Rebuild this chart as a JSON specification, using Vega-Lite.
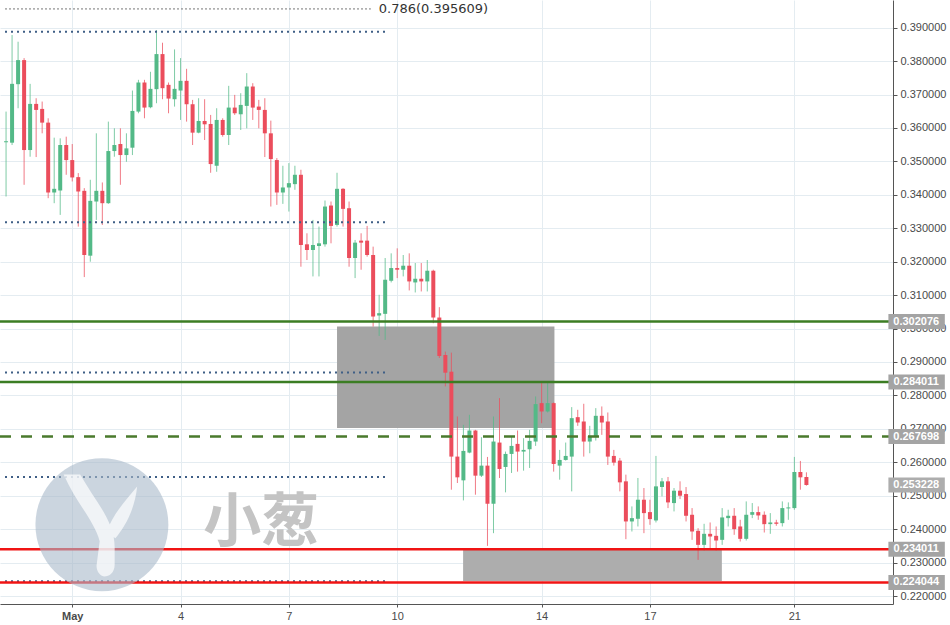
{
  "$schema": "https://vega.github.io/schema/vega-lite/v6.json",
  "width": 893,
  "height": 604,
  "autosize": {"type": "none"},
  "padding": {"left": 0, "top": 0, "right": 57, "bottom": 21},
  "background": "white",
  "config": {
    "view": {"stroke": null},
    "axis": {"gridColor": "#e4ecf1", "gridWidth": 1, "domainColor": "#555555", "tickColor": "#555555", "labelColor": "#4a4a4a", "labelFont": "Liberation Sans", "labelFontSize": 11, "labelOverlap": false, "labelBound": false}
  },
  "datasets": {
    "candles": [
      {"t":"2018-04-29T04:00","o":0.3557,"h":0.3649,"l":0.3395,"c":0.3560},
      {"t":"2018-04-29T08:00","o":0.3556,"h":0.3878,"l":0.3549,"c":0.3732},
      {"t":"2018-04-29T12:00","o":0.3731,"h":0.3858,"l":0.3659,"c":0.3803},
      {"t":"2018-04-29T16:00","o":0.3803,"h":0.3809,"l":0.3430,"c":0.3534},
      {"t":"2018-04-29T20:00","o":0.3534,"h":0.3732,"l":0.3514,"c":0.3672},
      {"t":"2018-04-30T00:00","o":0.3672,"h":0.3689,"l":0.3513,"c":0.3654},
      {"t":"2018-04-30T04:00","o":0.3657,"h":0.3679,"l":0.3584,"c":0.3616},
      {"t":"2018-04-30T08:00","o":0.3616,"h":0.3629,"l":0.3390,"c":0.3407},
      {"t":"2018-04-30T12:00","o":0.3407,"h":0.3571,"l":0.3375,"c":0.3418},
      {"t":"2018-04-30T16:00","o":0.3413,"h":0.3569,"l":0.3340,"c":0.3549},
      {"t":"2018-04-30T20:00","o":0.3549,"h":0.3574,"l":0.3460,"c":0.3504},
      {"t":"2018-05-01T00:00","o":0.3504,"h":0.3552,"l":0.3440,"c":0.3452},
      {"t":"2018-05-01T04:00","o":0.3453,"h":0.3465,"l":0.3305,"c":0.3410},
      {"t":"2018-05-01T08:00","o":0.3412,"h":0.3420,"l":0.3154,"c":0.3220},
      {"t":"2018-05-01T12:00","o":0.3218,"h":0.3445,"l":0.3200,"c":0.3382},
      {"t":"2018-05-01T16:00","o":0.3380,"h":0.3584,"l":0.3325,"c":0.3412},
      {"t":"2018-05-01T20:00","o":0.3412,"h":0.3437,"l":0.3310,"c":0.3375},
      {"t":"2018-05-02T00:00","o":0.3375,"h":0.3619,"l":0.3373,"c":0.3531},
      {"t":"2018-05-02T04:00","o":0.3531,"h":0.3599,"l":0.3514,"c":0.3549},
      {"t":"2018-05-02T08:00","o":0.3552,"h":0.3599,"l":0.3430,"c":0.3519},
      {"t":"2018-05-02T12:00","o":0.3519,"h":0.3584,"l":0.3499,"c":0.3539},
      {"t":"2018-05-02T16:00","o":0.3541,"h":0.3712,"l":0.3519,"c":0.3651},
      {"t":"2018-05-02T20:00","o":0.3649,"h":0.3744,"l":0.3644,"c":0.3736},
      {"t":"2018-05-03T00:00","o":0.3736,"h":0.3744,"l":0.3629,"c":0.3661},
      {"t":"2018-05-03T04:00","o":0.3662,"h":0.3768,"l":0.3659,"c":0.3717},
      {"t":"2018-05-03T08:00","o":0.3716,"h":0.3893,"l":0.3674,"c":0.3821},
      {"t":"2018-05-03T12:00","o":0.3821,"h":0.3855,"l":0.3686,"c":0.3719},
      {"t":"2018-05-03T16:00","o":0.3729,"h":0.3736,"l":0.3644,"c":0.3688},
      {"t":"2018-05-03T20:00","o":0.3686,"h":0.3835,"l":0.3664,"c":0.3717},
      {"t":"2018-05-04T00:00","o":0.3712,"h":0.3809,"l":0.3624,"c":0.3741},
      {"t":"2018-05-04T04:00","o":0.3741,"h":0.3777,"l":0.3619,"c":0.3671},
      {"t":"2018-05-04T08:00","o":0.3671,"h":0.3684,"l":0.3549,"c":0.3586},
      {"t":"2018-05-04T12:00","o":0.3586,"h":0.3689,"l":0.3584,"c":0.3621},
      {"t":"2018-05-04T16:00","o":0.3621,"h":0.3686,"l":0.3564,"c":0.3611},
      {"t":"2018-05-04T20:00","o":0.3612,"h":0.3639,"l":0.3466,"c":0.3492},
      {"t":"2018-05-05T00:00","o":0.3487,"h":0.3659,"l":0.3469,"c":0.3624},
      {"t":"2018-05-05T04:00","o":0.3624,"h":0.3629,"l":0.3574,"c":0.3579},
      {"t":"2018-05-05T08:00","o":0.3579,"h":0.3726,"l":0.3549,"c":0.3661},
      {"t":"2018-05-05T12:00","o":0.3661,"h":0.3699,"l":0.3639,"c":0.3644},
      {"t":"2018-05-05T16:00","o":0.3641,"h":0.3704,"l":0.3594,"c":0.3669},
      {"t":"2018-05-05T20:00","o":0.3666,"h":0.3764,"l":0.3599,"c":0.3724},
      {"t":"2018-05-06T00:00","o":0.3724,"h":0.3734,"l":0.3624,"c":0.3661},
      {"t":"2018-05-06T04:00","o":0.3664,"h":0.3684,"l":0.3599,"c":0.3654},
      {"t":"2018-05-06T08:00","o":0.3654,"h":0.3689,"l":0.3513,"c":0.3584},
      {"t":"2018-05-06T12:00","o":0.3584,"h":0.3622,"l":0.3365,"c":0.3507},
      {"t":"2018-05-06T16:00","o":0.3504,"h":0.3510,"l":0.3370,"c":0.3407},
      {"t":"2018-05-06T20:00","o":0.3407,"h":0.3487,"l":0.3373,"c":0.3422},
      {"t":"2018-05-07T00:00","o":0.3422,"h":0.3495,"l":0.3350,"c":0.3435},
      {"t":"2018-05-07T04:00","o":0.3432,"h":0.3487,"l":0.3415,"c":0.3460},
      {"t":"2018-05-07T08:00","o":0.3460,"h":0.3475,"l":0.3185,"c":0.3250},
      {"t":"2018-05-07T12:00","o":0.3252,"h":0.3285,"l":0.3205,"c":0.3235},
      {"t":"2018-05-07T16:00","o":0.3235,"h":0.3325,"l":0.3156,"c":0.3250},
      {"t":"2018-05-07T20:00","o":0.3247,"h":0.3305,"l":0.3156,"c":0.3255},
      {"t":"2018-05-08T00:00","o":0.3252,"h":0.3383,"l":0.3245,"c":0.3365},
      {"t":"2018-05-08T04:00","o":0.3368,"h":0.3380,"l":0.3255,"c":0.3307},
      {"t":"2018-05-08T08:00","o":0.3310,"h":0.3466,"l":0.3305,"c":0.3418},
      {"t":"2018-05-08T12:00","o":0.3418,"h":0.3420,"l":0.3305,"c":0.3358},
      {"t":"2018-05-08T16:00","o":0.3360,"h":0.3380,"l":0.3185,"c":0.3211},
      {"t":"2018-05-08T20:00","o":0.3211,"h":0.3265,"l":0.3151,"c":0.3257},
      {"t":"2018-05-09T00:00","o":0.3263,"h":0.3285,"l":0.3176,"c":0.3257},
      {"t":"2018-05-09T04:00","o":0.3263,"h":0.3307,"l":0.3215,"c":0.3220},
      {"t":"2018-05-09T08:00","o":0.3220,"h":0.3245,"l":0.3006,"c":0.3036},
      {"t":"2018-05-09T12:00","o":0.3039,"h":0.3101,"l":0.2978,"c":0.3046},
      {"t":"2018-05-09T16:00","o":0.3044,"h":0.3211,"l":0.2966,"c":0.3146},
      {"t":"2018-05-09T20:00","o":0.3143,"h":0.3225,"l":0.3138,"c":0.3181},
      {"t":"2018-05-10T00:00","o":0.3181,"h":0.3240,"l":0.3151,"c":0.3176},
      {"t":"2018-05-10T04:00","o":0.3176,"h":0.3220,"l":0.3156,"c":0.3188},
      {"t":"2018-05-10T08:00","o":0.3188,"h":0.3225,"l":0.3114,"c":0.3141},
      {"t":"2018-05-10T12:00","o":0.3138,"h":0.3196,"l":0.3108,"c":0.3149},
      {"t":"2018-05-10T16:00","o":0.3149,"h":0.3196,"l":0.3111,"c":0.3141},
      {"t":"2018-05-10T20:00","o":0.3141,"h":0.3205,"l":0.3111,"c":0.3173},
      {"t":"2018-05-11T00:00","o":0.3173,"h":0.3176,"l":0.3016,"c":0.3033},
      {"t":"2018-05-11T04:00","o":0.3033,"h":0.3064,"l":0.2912,"c":0.2918},
      {"t":"2018-05-11T08:00","o":0.2921,"h":0.2931,"l":0.2827,"c":0.2868},
      {"t":"2018-05-11T12:00","o":0.2871,"h":0.2928,"l":0.2518,"c":0.2617},
      {"t":"2018-05-11T16:00","o":0.2617,"h":0.2737,"l":0.2538,"c":0.2555},
      {"t":"2018-05-11T20:00","o":0.2546,"h":0.2712,"l":0.2486,"c":0.2634},
      {"t":"2018-05-12T00:00","o":0.2629,"h":0.2742,"l":0.2627,"c":0.2695},
      {"t":"2018-05-12T04:00","o":0.2695,"h":0.2697,"l":0.2503,"c":0.2560},
      {"t":"2018-05-12T08:00","o":0.2560,"h":0.2675,"l":0.2556,"c":0.2590},
      {"t":"2018-05-12T12:00","o":0.2590,"h":0.2616,"l":0.2350,"c":0.2476},
      {"t":"2018-05-12T16:00","o":0.2476,"h":0.2737,"l":0.2388,"c":0.2662},
      {"t":"2018-05-12T20:00","o":0.2659,"h":0.2792,"l":0.2553,"c":0.2580},
      {"t":"2018-05-13T00:00","o":0.2586,"h":0.2632,"l":0.2510,"c":0.2625},
      {"t":"2018-05-13T04:00","o":0.2625,"h":0.2677,"l":0.2568,"c":0.2649},
      {"t":"2018-05-13T08:00","o":0.2655,"h":0.2695,"l":0.2572,"c":0.2632},
      {"t":"2018-05-13T12:00","o":0.2632,"h":0.2672,"l":0.2575,"c":0.2637},
      {"t":"2018-05-13T16:00","o":0.2639,"h":0.2697,"l":0.2583,"c":0.2664},
      {"t":"2018-05-13T20:00","o":0.2662,"h":0.2797,"l":0.2649,"c":0.2774},
      {"t":"2018-05-14T00:00","o":0.2777,"h":0.2837,"l":0.2717,"c":0.2752},
      {"t":"2018-05-14T04:00","o":0.2752,"h":0.2837,"l":0.2749,"c":0.2777},
      {"t":"2018-05-14T08:00","o":0.2777,"h":0.2779,"l":0.2572,"c":0.2595},
      {"t":"2018-05-14T12:00","o":0.2590,"h":0.2637,"l":0.2548,"c":0.2607},
      {"t":"2018-05-14T16:00","o":0.2607,"h":0.2659,"l":0.2605,"c":0.2619},
      {"t":"2018-05-14T20:00","o":0.2617,"h":0.2765,"l":0.2513,"c":0.2732},
      {"t":"2018-05-15T00:00","o":0.2735,"h":0.2757,"l":0.2709,"c":0.2719},
      {"t":"2018-05-15T04:00","o":0.2722,"h":0.2775,"l":0.2617,"c":0.2662},
      {"t":"2018-05-15T08:00","o":0.2662,"h":0.2709,"l":0.2627,"c":0.2679},
      {"t":"2018-05-15T12:00","o":0.2677,"h":0.2762,"l":0.2665,"c":0.2739},
      {"t":"2018-05-15T16:00","o":0.2739,"h":0.2767,"l":0.2682,"c":0.2719},
      {"t":"2018-05-15T20:00","o":0.2722,"h":0.2749,"l":0.2592,"c":0.2617},
      {"t":"2018-05-16T00:00","o":0.2619,"h":0.2637,"l":0.2590,"c":0.2599},
      {"t":"2018-05-16T04:00","o":0.2605,"h":0.2613,"l":0.2513,"c":0.2540},
      {"t":"2018-05-16T08:00","o":0.2543,"h":0.2563,"l":0.2370,"c":0.2423},
      {"t":"2018-05-16T12:00","o":0.2423,"h":0.2468,"l":0.2393,"c":0.2433},
      {"t":"2018-05-16T16:00","o":0.2431,"h":0.2553,"l":0.2408,"c":0.2488},
      {"t":"2018-05-16T20:00","o":0.2488,"h":0.2523,"l":0.2388,"c":0.2448},
      {"t":"2018-05-17T00:00","o":0.2451,"h":0.2488,"l":0.2413,"c":0.2430},
      {"t":"2018-05-17T04:00","o":0.2426,"h":0.2619,"l":0.2420,"c":0.2528},
      {"t":"2018-05-17T08:00","o":0.2526,"h":0.2553,"l":0.2498,"c":0.2543},
      {"t":"2018-05-17T12:00","o":0.2543,"h":0.2556,"l":0.2463,"c":0.2480},
      {"t":"2018-05-17T16:00","o":0.2478,"h":0.2523,"l":0.2453,"c":0.2515},
      {"t":"2018-05-17T20:00","o":0.2515,"h":0.2543,"l":0.2490,"c":0.2500},
      {"t":"2018-05-18T00:00","o":0.2505,"h":0.2526,"l":0.2423,"c":0.2440},
      {"t":"2018-05-18T04:00","o":0.2443,"h":0.2463,"l":0.2368,"c":0.2393},
      {"t":"2018-05-18T08:00","o":0.2395,"h":0.2403,"l":0.2308,"c":0.2353},
      {"t":"2018-05-18T12:00","o":0.2353,"h":0.2416,"l":0.2336,"c":0.2386},
      {"t":"2018-05-18T16:00","o":0.2386,"h":0.2420,"l":0.2343,"c":0.2378},
      {"t":"2018-05-18T20:00","o":0.2380,"h":0.2408,"l":0.2336,"c":0.2366},
      {"t":"2018-05-19T00:00","o":0.2368,"h":0.2463,"l":0.2353,"c":0.2435},
      {"t":"2018-05-19T04:00","o":0.2433,"h":0.2458,"l":0.2408,"c":0.2440},
      {"t":"2018-05-19T08:00","o":0.2440,"h":0.2463,"l":0.2383,"c":0.2400},
      {"t":"2018-05-19T12:00","o":0.2408,"h":0.2428,"l":0.2363,"c":0.2371},
      {"t":"2018-05-19T16:00","o":0.2371,"h":0.2483,"l":0.2366,"c":0.2443},
      {"t":"2018-05-19T20:00","o":0.2443,"h":0.2478,"l":0.2433,"c":0.2451},
      {"t":"2018-05-20T00:00","o":0.2451,"h":0.2468,"l":0.2428,"c":0.2441},
      {"t":"2018-05-20T04:00","o":0.2443,"h":0.2453,"l":0.2390,"c":0.2415},
      {"t":"2018-05-20T08:00","o":0.2415,"h":0.2448,"l":0.2386,"c":0.2420},
      {"t":"2018-05-20T12:00","o":0.2420,"h":0.2428,"l":0.2410,"c":0.2416},
      {"t":"2018-05-20T16:00","o":0.2418,"h":0.2483,"l":0.2408,"c":0.2463},
      {"t":"2018-05-20T20:00","o":0.2462,"h":0.2480,"l":0.2428,"c":0.2465},
      {"t":"2018-05-21T00:00","o":0.2463,"h":0.2616,"l":0.2458,"c":0.2571},
      {"t":"2018-05-21T04:00","o":0.2571,"h":0.2604,"l":0.2518,"c":0.2555},
      {"t":"2018-05-21T08:00","o":0.2556,"h":0.2570,"l":0.2530,"c":0.2532}
    ]
  },
  "layer": [
    {
      "data": {"values": [
        {"start": "2018-05-08T08:00", "end": "2018-05-14T08:31", "top": 0.30061, "bottom": 0.27024, "zone": "upper"},
        {"start": "2018-05-11T19:48", "end": "2018-05-18T23:48", "top": 0.2340, "bottom": 0.2245, "zone": "lower"}
      ]},
      "mark": {"type": "rect"},
      "encoding": {
        "x": {"field": "start", "type": "temporal", "title": null,
              "scale": {"domain": [{"year": 2018, "month": 4, "date": 29, "hours": 3, "minutes": 18}, {"year": 2018, "month": 5, "date": 23, "hours": 14, "minutes": 14}], "nice": false},
              "axis": {"orient": "bottom", "grid": true, "tickSize": 3, "labelPadding": 3, "domain": true, "labelOverlap": false, "tickCount": 30,
                       "values": [{"year": 2018, "month": 5, "date": 1}, {"year": 2018, "month": 5, "date": 4}, {"year": 2018, "month": 5, "date": 7}, {"year": 2018, "month": 5, "date": 10}, {"year": 2018, "month": 5, "date": 14}, {"year": 2018, "month": 5, "date": 17}, {"year": 2018, "month": 5, "date": 21}],
                       "labelExpr": "date(datum.value) == 1 ? 'May' : '' + date(datum.value)",
                       "labelFontWeight": {"condition": {"test": "date(datum.value) == 1", "value": "bold"}, "value": "normal"}}},
        "x2": {"field": "end"},
        "y": {"field": "top", "type": "quantitative", "title": null,
              "scale": {"domain": [0.21761, 0.39828], "nice": false, "zero": false},
              "axis": {"orient": "right", "grid": true, "tickSize": 4, "labelPadding": 3, "format": ".6f", "domain": true, "labelOverlap": false, "tickCount": 40,
                       "values": [0.22, 0.23, 0.24, 0.25, 0.26, 0.27, 0.28, 0.29, 0.30, 0.31, 0.32, 0.33, 0.34, 0.35, 0.36, 0.37, 0.38, 0.39]}},
        "y2": {"field": "bottom"},
        "color": {"field": "zone", "type": "nominal", "scale": {"domain": ["upper", "lower"], "range": ["#a4a4a4", "#adadad"]}, "legend": null}
      }
    },
    {
      "data": {"name": "candles"},
      "mark": {"type": "rule", "strokeWidth": 1, "opacity": 0.75},
      "encoding": {
        "x": {"field": "t", "type": "temporal", "title": null},
        "y": {"field": "l", "type": "quantitative", "title": null},
        "y2": {"field": "h"},
        "color": {"condition": {"test": "datum.c >= datum.o", "value": "#53b987"}, "value": "#eb4d5c"}
      }
    },
    {
      "data": {"name": "candles"},
      "mark": {"type": "bar", "width": 4},
      "encoding": {
        "x": {"field": "t", "type": "temporal", "title": null},
        "y": {"field": "o", "type": "quantitative", "title": null},
        "y2": {"field": "c"},
        "color": {"condition": {"test": "datum.c >= datum.o", "value": "#53b987"}, "value": "#eb4d5c"}
      }
    },
    {
      "data": {"values": [{"v": 0.3888}, {"v": 0.33182}, {"v": 0.28686}, {"v": 0.25559}, {"v": 0.22438}]},
      "mark": {"type": "rule", "strokeWidth": 2, "strokeDash": [2, 4], "color": "#3f5f86"},
      "encoding": {
        "x": {"datum": {"year": 2018, "month": 4, "date": 29, "hours": 3, "minutes": 18}, "type": "temporal", "title": null},
        "x2": {"datum": {"year": 2018, "month": 5, "date": 9, "hours": 16, "minutes": 21}},
        "y": {"field": "v", "type": "quantitative", "title": null}
      }
    },
    {
      "data": {"values": [{"v": 0.395609}]},
      "mark": {"type": "rule", "strokeWidth": 1, "strokeDash": [2, 2], "color": "#777777"},
      "encoding": {
        "x": {"datum": {"year": 2018, "month": 4, "date": 29, "hours": 3, "minutes": 18}, "type": "temporal", "title": null},
        "x2": {"datum": {"year": 2018, "month": 5, "date": 9, "hours": 6, "minutes": 29}},
        "y": {"field": "v", "type": "quantitative", "title": null}
      }
    },
    {
      "data": {"values": [{"v": 0.395609, "label": "0.786(0.395609)"}]},
      "mark": {"type": "text", "align": "left", "baseline": "middle", "font": "DejaVu Sans", "fontSize": 13, "color": "#333333"},
      "encoding": {
        "x": {"datum": {"year": 2018, "month": 5, "date": 9, "hours": 11, "minutes": 45}, "type": "temporal", "title": null},
        "y": {"field": "v", "type": "quantitative", "title": null},
        "text": {"field": "label"}
      }
    },
    {
      "data": {"values": [{"v": 0.302076}, {"v": 0.284011}]},
      "mark": {"type": "rule", "strokeWidth": 2.5, "color": "#3b7d23"},
      "encoding": {"y": {"field": "v", "type": "quantitative", "title": null}}
    },
    {
      "data": {"values": [{"v": 0.267698}]},
      "mark": {"type": "rule", "strokeWidth": 2.5, "strokeDash": [11, 10], "color": "#4a7a2c"},
      "encoding": {"y": {"field": "v", "type": "quantitative", "title": null}}
    },
    {
      "data": {"values": [{"v": 0.234011}, {"v": 0.224044}]},
      "mark": {"type": "rule", "strokeWidth": 2.5, "color": "#f01414"},
      "encoding": {"y": {"field": "v", "type": "quantitative", "title": null}}
    },
    {
      "data": {"values": [
        {"v": 0.302076, "kind": "support"}, {"v": 0.284011, "kind": "support"}, {"v": 0.267698, "kind": "support"},
        {"v": 0.253228, "kind": "last"}, {"v": 0.234011, "kind": "floor"}, {"v": 0.224044, "kind": "floor"}
      ]},
      "layer": [
        {
          "mark": {"type": "rect", "yOffset": -7.5, "y2Offset": 7.5},
          "encoding": {
            "x": {"datum": {"year": 2018, "month": 5, "date": 23, "hours": 14, "minutes": 30}, "type": "temporal", "title": null},
            "x2": {"datum": {"year": 2018, "month": 5, "date": 25, "hours": 4}},
            "y": {"field": "v", "type": "quantitative", "title": null},
            "y2": {"field": "v"},
            "color": {"field": "kind", "type": "nominal", "scale": {"domain": ["support", "last", "floor"], "range": ["#387a1f", "#ea5a6b", "#f50f0f"]}, "legend": null}
          }
        },
        {
          "mark": {"type": "text", "align": "center", "baseline": "middle", "font": "Liberation Sans", "fontSize": 11, "fontWeight": "bold", "color": "#ffffff"},
          "encoding": {
            "x": {"datum": {"year": 2018, "month": 5, "date": 24, "hours": 9}, "type": "temporal", "title": null},
            "y": {"field": "v", "type": "quantitative", "title": null},
            "text": {"field": "v", "format": ".6f"}
          }
        }
      ]
    },
    {
      "data": {"values": [{"t": "2018-05-01T19:43", "p": 0.24133}]},
      "layer": [
        {
          "mark": {"type": "point", "shape": "circle", "filled": true, "size": 17671, "color": "#a9b9c9", "opacity": 0.6},
          "encoding": {
            "x": {"field": "t", "type": "temporal", "title": null},
            "y": {"field": "p", "type": "quantitative", "title": null}
          }
        },
        {
          "mark": {"type": "point", "filled": true, "size": 22500, "color": "#ffffff", "opacity": 0.7,
                   "shape": "M-0.51,-0.67 L-0.29,-0.67 C-0.08,-0.3 0.17,-0.05 0.17,0.3 L0.17,0.53 C0.17,0.64 0.1,0.69 0.03,0.69 C-0.04,0.68 -0.08,0.6 -0.07,0.53 L-0.03,0.22 C-0.1,-0.05 -0.35,-0.3 -0.51,-0.67 Z M0.47,-0.51 C0.44,-0.2 0.3,0.04 0.18,0.18 L0.06,0.1 C0.15,-0.15 0.33,-0.34 0.47,-0.51 Z"},
          "encoding": {
            "x": {"field": "t", "type": "temporal", "title": null},
            "y": {"field": "p", "type": "quantitative", "title": null}
          }
        }
      ]
    },
    {
      "data": {"values": [{"t": "2018-05-06T05:38", "p": 0.24163, "label": "小葱"}]},
      "mark": {"type": "text", "align": "center", "baseline": "middle", "font": "Noto Sans CJK SC", "fontSize": 58, "fontWeight": "bold", "color": "#c4c4c4"},
      "encoding": {
        "x": {"field": "t", "type": "temporal", "title": null},
        "y": {"field": "p", "type": "quantitative", "title": null},
        "text": {"field": "label"}
      }
    }
  ]
}
